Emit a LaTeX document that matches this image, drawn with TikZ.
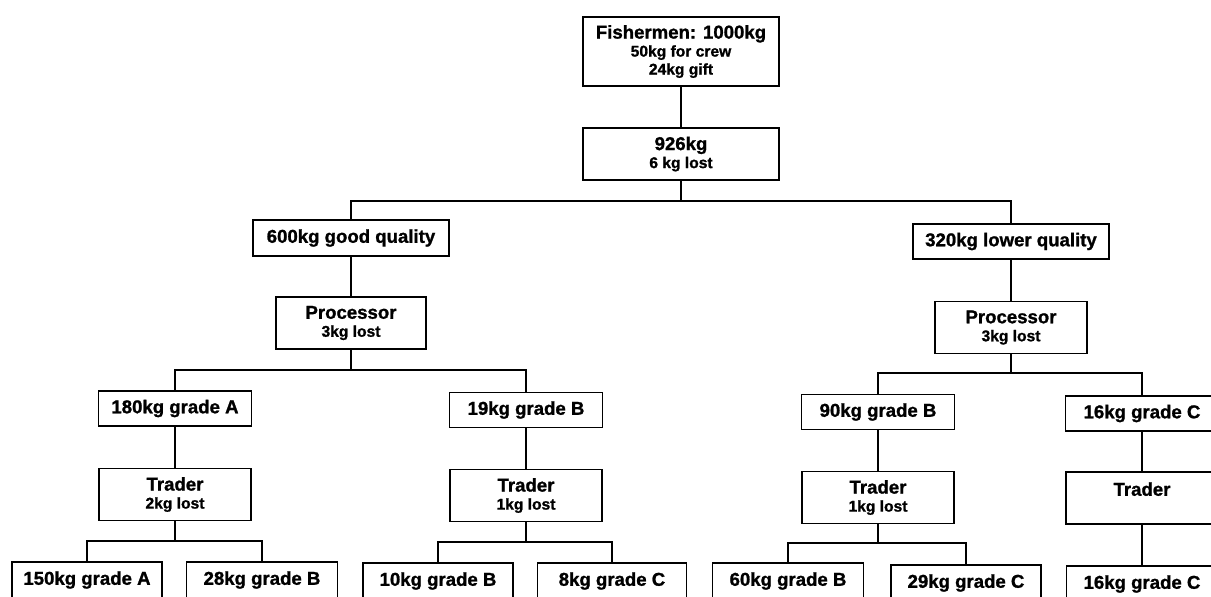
\documentclass[tikz,border=0pt]{standalone}
\usepackage{fontspec}
\setmainfont{Liberation Sans}[BoldFeatures={FakeBold=1.2}]
\usepackage{tikz}
\usetikzlibrary{calc,positioning}
\newcommand{\bigtxt}{\fontsize{9.3}{9}\selectfont}
\newcommand{\smalltxt}{\fontsize{7.8}{9}\selectfont}
\tikzstyle{box}    = [draw=black, line width=0.8pt, align=center, inner sep=0pt, font=\bfseries\bigtxt]
\tikzstyle{wide}   = [box, minimum width=98pt]
\tikzstyle{stage}  = [box, minimum width=76pt, minimum height=26pt]
\tikzstyle{grade}  = [box, minimum width=76.5pt, minimum height=17.5pt]
\tikzstyle{leaf}   = [box, minimum width=75.5pt, minimum height=18pt]
\tikzstyle{link}   = [line width=0.8pt]

\begin{document}
\begin{tikzpicture}[x=0.5pt, y=-0.5pt]
        \useasboundingbox (0,0) rectangle (1211,596);

        \node[wide, minimum height=34.5pt] (fish) at (681,51.5) {Fishermen: 1000kg\\{\smalltxt 50kg for crew}\\{\smalltxt 24kg gift}};
        \node[wide, minimum height=26pt] (kg926) at (681,154) {926kg\\{\smalltxt 6 kg lost}};
        \node[wide, minimum height=18pt] (good) at (351,238) {600kg good quality};
        \node[wide, minimum height=17.5pt] (lower) at (1011,241.5) {320kg lower quality};
        \node[stage, minimum width=75pt] (procl) at (351,323) {Processor\\{\smalltxt 3kg lost}};
        \node[stage] (procr) at (1011,327.5) {Processor\\{\smalltxt 3kg lost}};

        \node[grade] (ga180) at (175,408.5) {180kg grade A};
        \node[grade] (gb19) at (526,410) {19kg grade B};
        \node[grade] (gb90) at (878,412) {90kg grade B};
        \node[grade] (gc16) at (1142,413.5) {16kg grade C};

        \node[stage] (tra) at (175,494.5) {Trader\\{\smalltxt 2kg lost}};
        \node[stage] (trb) at (526,495.5) {Trader\\{\smalltxt 1kg lost}};
        \node[stage] (trb90) at (878,497.5) {Trader\\{\smalltxt 1kg lost}};
        \node[stage] (trc) at (1142,498) {Trader\\\mbox{}};

        \node[leaf, minimum width=75pt] (a150) at (87,580) {150kg grade A};
        \node[leaf] (b28) at (262,580) {28kg grade B};
        \node[leaf, minimum width=75pt] (b10) at (438,581) {10kg grade B};
        \node[leaf, minimum width=74.5pt] (c8) at (612,581) {8kg grade C};
        \node[leaf] (b60) at (788,581) {60kg grade B};
        \node[leaf, minimum width=75pt] (c29) at (966,583) {29kg grade C};
        \node[leaf] (c16) at (1142,584) {16kg grade C};

        \coordinate (bartop) at (681,201);
        \coordinate (barl) at (351,370);
        \coordinate (barr) at (1011,373);
        \coordinate (bara) at (175,541);
        \coordinate (barb) at (526,542);
        \coordinate (barb90) at (878,543);

        \draw[link] (fish) -- (kg926);
        \draw[link] (kg926) -- (bartop);
        \draw[link] (good) |- (bartop) -| (lower);
        \draw[link] (good) -- (procl);
        \draw[link] (lower) -- (procr);

        \draw[link] (procl) -- (barl);
        \draw[link] (ga180) |- (barl) -| (gb19);
        \draw[link] (procr) -- (barr);
        \draw[link] (gb90) |- (barr) -| (gc16);

        \draw[link] (ga180) -- (tra);
        \draw[link] (gb19) -- (trb);
        \draw[link] (gb90) -- (trb90);
        \draw[link] (gc16) -- (trc);

        \draw[link] (tra) -- (bara);
        \draw[link] (a150) |- (bara) -| (b28);
        \draw[link] (trb) -- (barb);
        \draw[link] (b10) |- (barb) -| (c8);
        \draw[link] (trb90) -- (barb90);
        \draw[link] (b60) |- (barb90) -| (c29);
        \draw[link] (trc) -- (c16);
\end{tikzpicture}
\end{document}
